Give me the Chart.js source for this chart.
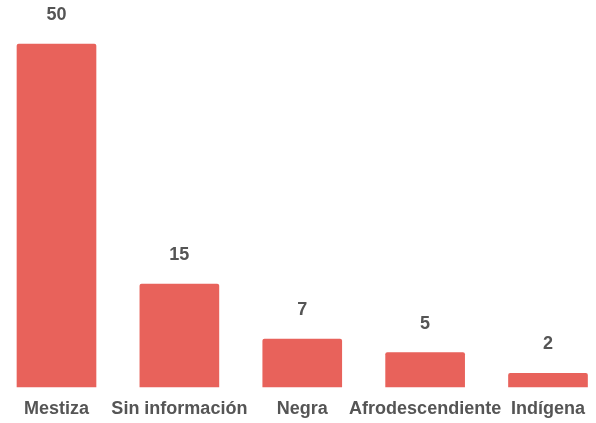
<!DOCTYPE html>
<html lang="es">
<head>
  <meta charset="UTF-8" />
  <title>Etnia</title>
  <script src="https://cdn.jsdelivr.net/npm/chart.js"></script>
  <style>
    html, body { margin: 0; padding: 0; background: #fff; }
    #wrap { width: 596px; height: 423px; position: relative; }
  </style>
</head>
<body>
  <div id="wrap"><canvas id="barChart"></canvas></div>

  <script>
    const categories = ["Mestiza", "Sin información", "Negra", "Afrodescendiente", "Indígena"];
    const counts = [50, 15, 7, 5, 2];

    const fontFamily = "'Liberation Sans', Arial, sans-serif";

    // valeurs au-dessus des barres
    const valueLabels = {
      id: "valueLabels",
      afterDatasetsDraw(chart) {
        const ctx = chart.ctx;
        const meta = chart.getDatasetMeta(0);
        ctx.save();
        ctx.fillStyle = "#555";
        ctx.font = "bold 18px " + fontFamily;
        ctx.textAlign = "center";
        ctx.textBaseline = "middle";
        meta.data.forEach((bar, i) => {
          ctx.fillText(counts[i], bar.x, bar.y - 29);
        });
        ctx.restore();
      }
    };

    new Chart(document.getElementById("barChart"), {
      type: "bar",
      data: {
        labels: categories,
        datasets: [{
          data: counts,
          backgroundColor: "#E8625B",
          barThickness: 79,
          borderRadius: { topLeft: 2, topRight: 2 },
          borderSkipped: "bottom",
          clip: false
        }]
      },
      options: {
        responsive: true,
        maintainAspectRatio: false,
        animation: false,
        layout: { padding: { left: 56.5, right: 47.5, top: 44, bottom: 0 } },
        plugins: { legend: { display: false }, tooltip: { enabled: false } },
        scales: {
          x: {
            offset: false,
            grid: { display: false, drawTicks: false },
            border: { display: false },
            afterFit: (axis) => { axis.height = 36; },
            ticks: {
              color: "#555",
              padding: 11,
              maxRotation: 0,
              autoSkip: false,
              font: { family: fontFamily, size: 18, weight: "bold" }
            }
          },
          y: {
            display: false,
            min: 0,
            max: 50
          }
        }
      },
      plugins: [valueLabels]
    });
  </script>
</body>
</html>
